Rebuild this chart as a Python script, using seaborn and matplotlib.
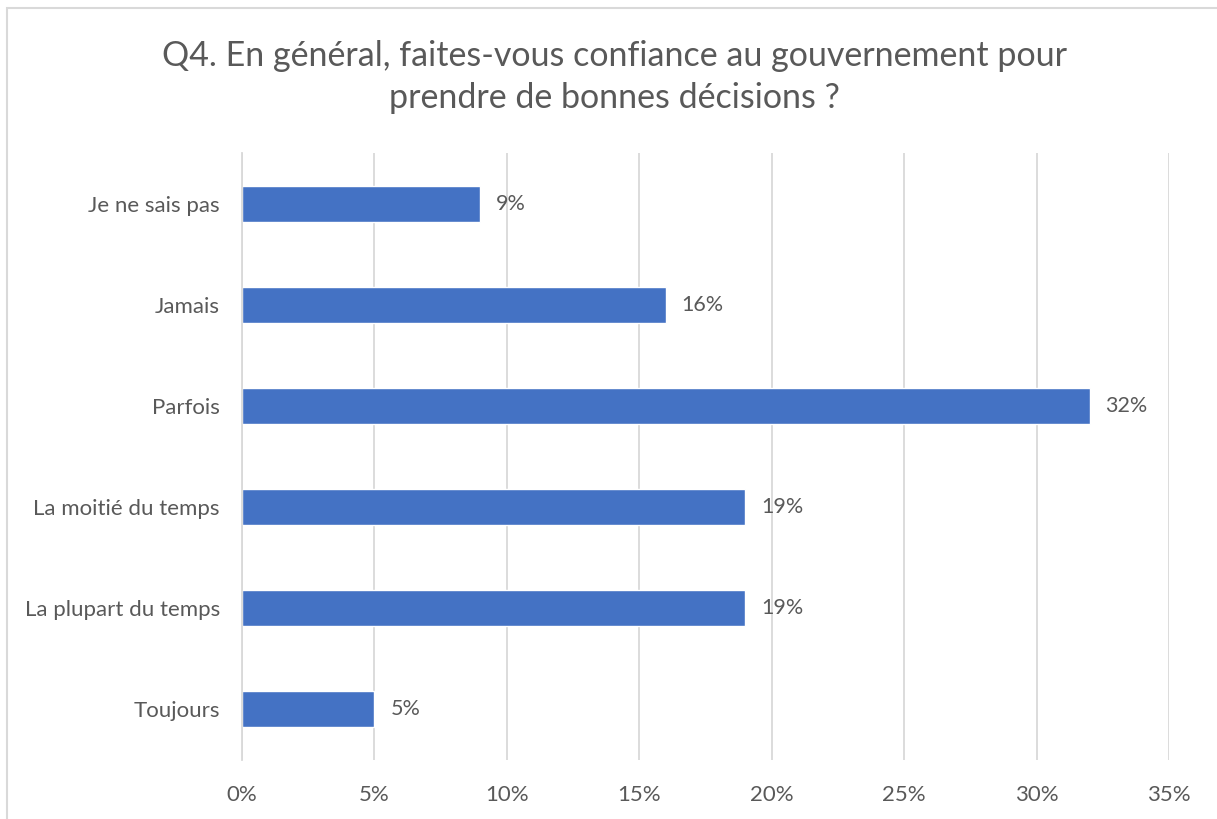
import matplotlib
matplotlib.use("Agg")
import matplotlib.pyplot as plt
import seaborn as sns
import pandas as pd
from matplotlib.ticker import FuncFormatter
from matplotlib.patches import Rectangle

categories = ["Je ne sais pas", "Jamais", "Parfois", "La moitié du temps", "La plupart du temps", "Toujours"]
values = [9, 16, 32, 19, 19, 5]
x_ticks = [0, 5, 10, 15, 20, 25, 30, 35]
title = "Q4. En général, faites-vous confiance au gouvernement pour\nprendre de bonnes décisions ?"

sns.set_theme(style="white")
plt.rcParams['font.family'] = ['Lato', 'DejaVu Sans']

TEXT = "#595959"
GRID = "#D9D9D9"
BAR = "#4472C4"

df = pd.DataFrame({"cat": categories, "val": values})

fig = plt.figure(figsize=(12.17, 8.19), dpi=100)
ax = fig.add_axes([242/1217, 1-760/819, (1169-242)/1217, (760-153)/819])

sns.barplot(data=df, y="cat", x="val", orient="h", color=BAR, width=0.355,
            saturation=1, ax=ax, order=categories)

ax.set_xlim(0, 35)
ax.set_xticks(x_ticks)
ax.xaxis.set_major_formatter(FuncFormatter(lambda v, p: f"{int(v)}%"))
ax.grid(axis="x", color=GRID, linewidth=1.3)
ax.set_axisbelow(True)
for s in ["top", "right", "bottom"]:
    ax.spines[s].set_visible(False)
ax.spines["left"].set_color(GRID)
ax.spines["left"].set_linewidth(1.3)
ax.set_xlabel("")
ax.set_ylabel("")
ax.tick_params(axis="both", length=0, colors=TEXT, labelsize=16)
ax.tick_params(axis="x", pad=18)
ax.tick_params(axis="y", pad=16)

for i, v in enumerate(values):
    ax.annotate(f"{v}%", xy=(v, i), xytext=(16, 0), textcoords="offset pixels",
                va="center", ha="left", fontsize=15.5, color=TEXT)

fig.text(614/1217, 1-77/819, title, ha="center", va="center", fontsize=24.5,
         color=TEXT, linespacing=1.4)

fig.add_artist(Rectangle((7/1217, -0.1), 1.2, 1-8/819+0.1, transform=fig.transFigure,
                         fill=False, edgecolor=GRID, linewidth=1.5))

fig.savefig("out.png", dpi=100)
